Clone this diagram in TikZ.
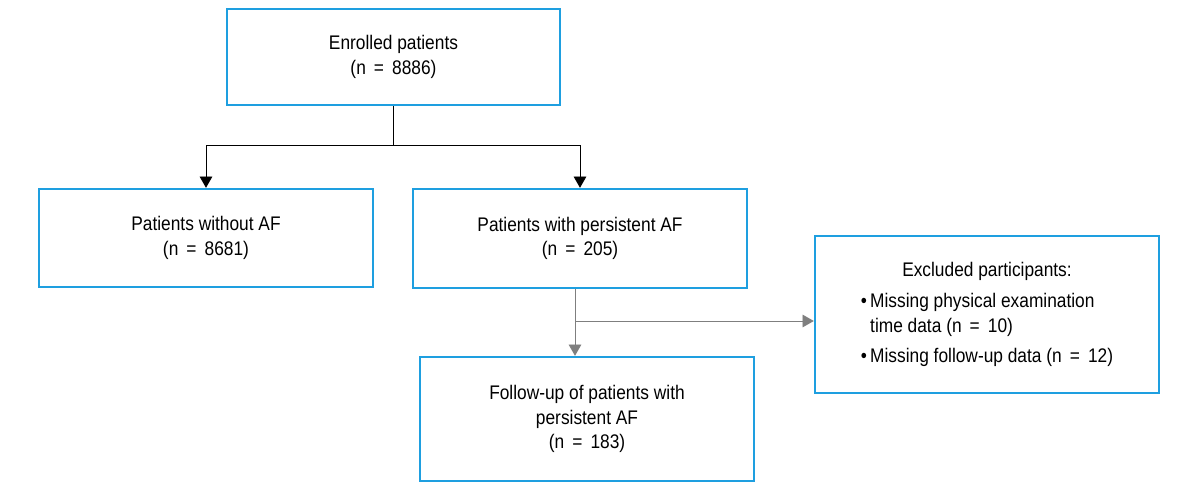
\documentclass[tikz,border=0pt]{standalone}
\usepackage{fontspec}
\setmainfont{Liberation Sans}[FakeStretch=0.88]
\usetikzlibrary{arrows.meta, positioning, calc}
\definecolor{cblue}{HTML}{1E9FE0}
\definecolor{cgrey}{HTML}{7F7F7F}
\newcommand{\eqn}{\,=\,}
\tikzset{
  every picture/.style={font=\fontsize{14}{17.5}\selectfont, line width=0.6pt},
  box/.style={draw=cblue, line width=1.7pt, fill=white, align=center, minimum width=8.35cm, minimum height=#1},
  box/.default=2.45cm,
  link/.style={draw=black, line width=0.6pt},
  arrow/.style={-{Triangle[length=8pt, width=9pt]}, draw=black, line width=0.6pt},
  garrow/.style={-{Triangle[length=8pt, width=9pt]}, draw=cgrey, line width=0.6pt},
}

\begin{document}
\begin{tikzpicture}[x=0.025cm, y=-0.025cm]
  \useasboundingbox (0,0) rectangle (1197,497);
  % boxes
  \node[box=2.4cm, minimum width=8.325cm] (enrolled) at (393.5,57) {Enrolled patients\\(n \eqn{} 8886)};
  \node[box] (noaf) at (206,238) {Patients without AF\\(n \eqn{} 8681)};
  \node[box=2.475cm] (persist) at (580,238.5) {Patients with persistent AF\\(n \eqn{} 205)};
  \node[box=3.1cm] (follow) at (587,419) {Follow-up of patients with\\persistent AF\\(n \eqn{} 183)};
  \node[box=3.925cm, minimum width=8.6cm] (excl) at (987,314.5) {%
    \begin{tabular}{@{}l@{\,}l@{}}
      \multicolumn{2}{c}{Excluded participants:}\\[5pt]
      \textbullet & Missing physical examination\\
                  & time data (n \eqn{} 10)\\[4pt]
      \textbullet & Missing follow-up data (n \eqn{} 12)
    \end{tabular}};
  % connectors
  \coordinate (split) at (393,145);
  \coordinate (branch) at (575,321);
  \draw[link] (split |- enrolled.south) -- (split);
  \draw[arrow] (split) -| (noaf.north);
  \draw[arrow] (split) -| (persist.north);
  \draw[garrow] (branch |- persist.south) -- (branch |- follow.north);
  \draw[garrow] (branch) -- (branch -| excl.west);
\end{tikzpicture}
\end{document}
